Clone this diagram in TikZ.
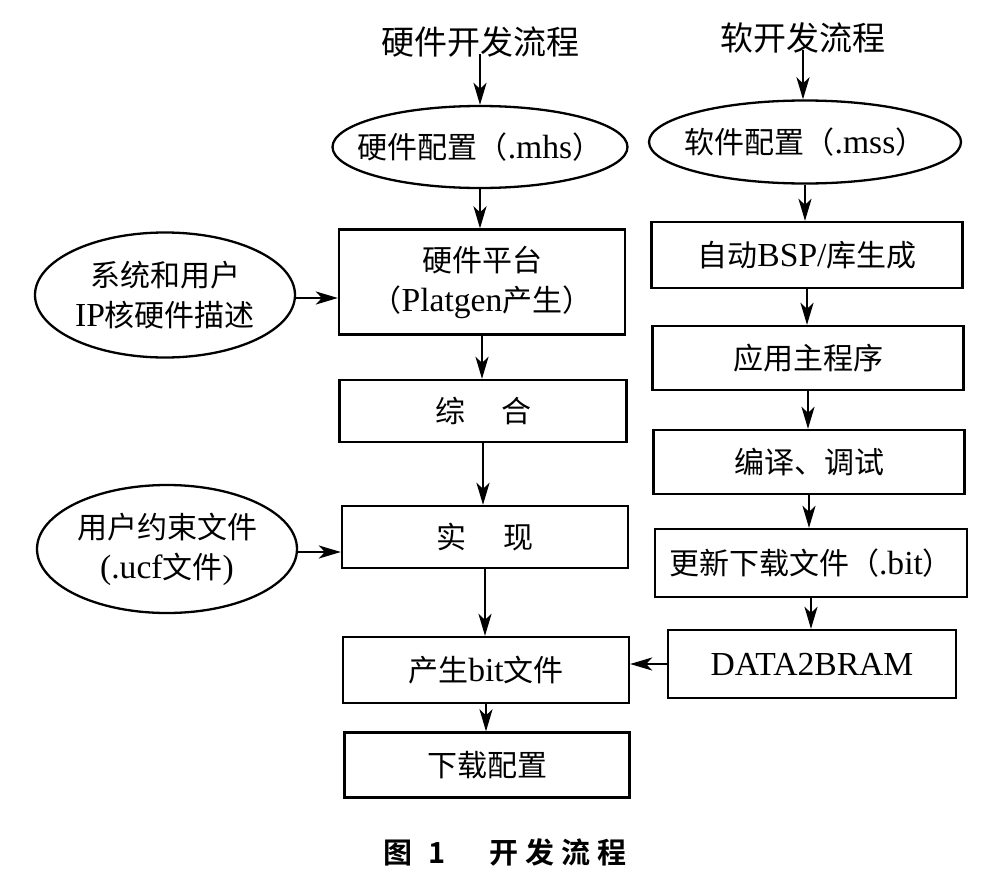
\documentclass[tikz,border=0pt]{standalone}
\usepackage{fontspec}
\setmainfont{Liberation Serif}[Scale=1.12]
\newfontfamily\cjk[BoldFont={Noto Sans CJK SC Bold}]{Noto Sans CJK SC}
\newcommand\zh[1]{{\cjk #1}}
\usetikzlibrary{arrows.meta,shapes.geometric}
\begin{document}
\begin{tikzpicture}[x=1pt,y=-1pt,
  every node/.style={font=\fontsize{30}{40}\selectfont, inner sep=0pt},
  boxnode/.style={draw, line width=2.3pt, rectangle, align=center},
  ellnode/.style={draw, line width=2.3pt, ellipse},
  lbl/.style={align=center},
  titlenode/.style={font=\fontsize{33}{38}\selectfont},
  arr/.style={line width=2.3pt, -{Stealth[length=22pt,width=13pt,inset=6pt]}}]
\useasboundingbox (0,0) rectangle (988,878);
% left column
\node[titlenode] (t1) at (480,42) {\zh{硬件开发流程}};
\node[ellnode, minimum width=295pt, minimum height=82pt] (e1) at (480,147) {};
\node[lbl] (e1t) at (e1.center) {\zh{硬件配置（}.mhs\zh{）}};
\node[boxnode, minimum width=286pt, minimum height=105pt] (b1) at (482,282) {\zh{硬件平台}\\\zh{（}Platgen\zh{产生）}};
\node[ellnode, minimum width=260pt, minimum height=125pt] (e2) at (165,295) {};
\node[lbl] (e2t) at (e2.center) {\zh{系统和用户}\\IP\zh{核硬件描述}};
\node[boxnode, minimum width=287pt, minimum height=62pt] (b2) at (483,411) {\zh{综}\hspace{36pt}\zh{合}};
\node[boxnode, minimum width=286pt, minimum height=62pt] (b3) at (485,537) {\zh{实}\hspace{38pt}\zh{现}};
\node[ellnode, minimum width=260pt, minimum height=128pt] (e3) at (167,549) {};
\node[lbl] (e3t) at (e3.center) {\zh{用户约束文件}\\(.ucf\zh{文件})};
\node[boxnode, minimum width=286pt, minimum height=66pt] (b4) at (486,670) {\zh{产生}bit\zh{文件}};
\node[boxnode, minimum width=285pt, minimum height=65pt] (b5) at (487,765) {\zh{下载配置}};
% right column
\node[titlenode] (t2) at (803,38) {\zh{软开发流程}};
\node[ellnode, minimum width=312pt, minimum height=83pt] (e4) at (805,142) {};
\node[lbl] (e4t) at (e4.center) {\zh{软件配置（}.mss\zh{）}};
\node[boxnode, minimum width=311pt, minimum height=66pt] (b6) at (807,255) {\zh{自动}BSP/\zh{库生成}};
\node[boxnode, minimum width=311pt, minimum height=64pt] (b7) at (808,358) {\zh{应用主程序}};
\node[boxnode, minimum width=311pt, minimum height=64pt] (b8) at (809,462) {\zh{编译、调试}};
\node[boxnode, minimum width=312pt, minimum height=68pt] (b9) at (811,563) {\zh{更新下载文件（}.bit\zh{）}};
\node[boxnode, minimum width=288pt, minimum height=68pt] (b10) at (812,664) {DATA2BRAM};
% caption
\node[anchor=west, font=\fontsize{29}{34}\selectfont\cjk\bfseries] (cap) at (383,852) {图\hspace{16pt}1\hspace{44pt}开\hspace{7pt}发\hspace{7pt}流\hspace{7pt}程};
% arrows left
\draw[arr] ([yshift=4pt]t1.south) -- (t1.south |- e1.north);
\draw[arr] (e1.south) -- (e1.south |- b1.north);
\draw[arr] (b1.south) -- (b1.south |- b2.north);
\draw[arr] (b2.south) -- (b2.south |- b3.north);
\draw[arr] (b3.south) -- (b3.south |- b4.north);
\draw[arr] (b4.south) -- (b4.south |- b5.north);
\draw[arr] ([yshift=-3pt]e2.east) -- ([yshift=-3pt]e2.east -| b1.west);
\draw[arr] ([yshift=-3pt]e3.east) -- ([yshift=-3pt]e3.east -| b3.west);
% arrows right
\draw[arr] ([yshift=4pt]t2.south) -- (t2.south |- e4.north);
\draw[arr] (e4.south) -- (e4.south |- b6.north);
\draw[arr] (b6.south) -- (b6.south |- b7.north);
\draw[arr] (b7.south) -- (b7.south |- b8.north);
\draw[arr] (b8.south) -- (b8.south |- b9.north);
\draw[arr] (b9.south) -- (b9.south |- b10.north);
\draw[arr] (b10.west) -- (b10.west -| b4.east);
\end{tikzpicture}
\end{document}
